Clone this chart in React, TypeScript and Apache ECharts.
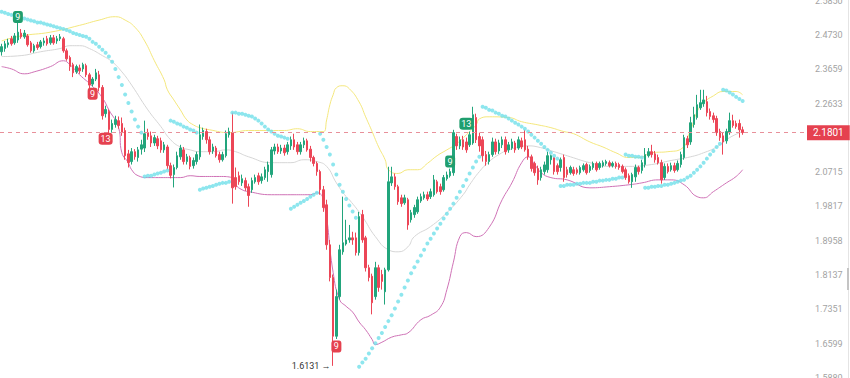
import React, { useEffect, useRef } from "react";
import * as echarts from "echarts";

// ---- axis scale (log spaced ticks) ----
const P0 = 1.6599; // tick "1.6599"
const P9 = 2.473; // tick "2.4730"
const STEP = Math.log(P9 / P0) / 9;
const toY = (p: number) => Math.log(p / P0) / STEP;

// tick labels from bottom (-1) to top (10); the 2.1652 tick sits under the price tag
const tickLabels = ["1.5880", "1.6599", "1.7351", "1.8137", "1.8958", "1.9817", "2.0715", "", "2.2633", "2.3659", "2.4730", "2.5850"];

const SLOTS = 248;
const LAST_PRICE = 2.1801;
const LOW_PRICE = 1.6131;

// [open, close, low, high]
const ohlc: [number, number, number, number][] = [
  [2.420,2.436,2.408,2.445],[2.430,2.445,2.420,2.454],[2.442,2.448,2.433,2.461],[2.461,2.445,2.439,2.470],
  [2.448,2.470,2.442,2.479],[2.457,2.482,2.448,2.517],[2.479,2.467,2.461,2.492],[2.467,2.479,2.461,2.489],
  [2.470,2.442,2.436,2.476],[2.448,2.423,2.417,2.454],[2.423,2.439,2.417,2.445],[2.442,2.433,2.426,2.451],
  [2.436,2.451,2.430,2.457],[2.448,2.454,2.439,2.464],[2.461,2.445,2.439,2.470],[2.448,2.464,2.442,2.473],
  [2.464,2.448,2.442,2.473],[2.454,2.461,2.445,2.470],[2.461,2.467,2.454,2.476],[2.461,2.423,2.417,2.467],
  [2.423,2.398,2.392,2.430],[2.402,2.374,2.361,2.408],[2.380,2.355,2.342,2.386],[2.358,2.374,2.352,2.380],
  [2.370,2.361,2.352,2.380],[2.367,2.380,2.358,2.386],[2.377,2.349,2.342,2.383],[2.349,2.318,2.308,2.355],
  [2.321,2.336,2.314,2.342],[2.336,2.355,2.330,2.367],[2.349,2.311,2.299,2.361],[2.311,2.228,2.217,2.318],
  [2.234,2.246,2.223,2.257],[2.240,2.189,2.177,2.246],[2.189,2.206,2.180,2.217],[2.203,2.217,2.194,2.228],
  [2.214,2.200,2.191,2.226],[2.206,2.180,2.171,2.223],[2.186,2.116,2.105,2.194],[2.121,2.097,2.084,2.132],
  [2.100,2.127,2.092,2.137],[2.127,2.113,2.105,2.134],[2.111,2.132,2.100,2.140],[2.134,2.146,2.119,2.160],
  [2.137,2.177,2.126,2.214],[2.180,2.169,2.160,2.191],[2.171,2.151,2.140,2.183],[2.151,2.166,2.143,2.174],
  [2.163,2.143,2.134,2.171],[2.157,2.132,2.124,2.166],[2.132,2.146,2.124,2.154],[2.140,2.089,2.079,2.146],
  [2.089,2.063,2.055,2.097],[2.065,2.084,2.031,2.092],[2.084,2.116,2.079,2.127],[2.113,2.137,2.105,2.146],
  [2.132,2.100,2.092,2.140],[2.100,2.113,2.092,2.121],[2.111,2.087,2.079,2.116],[2.089,2.103,2.081,2.111],
  [2.100,2.119,2.092,2.127],[2.113,2.174,2.105,2.203],[2.169,2.186,2.160,2.194],[2.183,2.160,2.149,2.191],
  [2.160,2.127,2.119,2.169],[2.129,2.140,2.121,2.149],[2.137,2.116,2.111,2.143],[2.119,2.105,2.097,2.127],
  [2.105,2.119,2.100,2.127],[2.116,2.177,2.111,2.186],[2.174,2.183,2.166,2.194],[2.180,2.030,1.989,2.237],
  [2.057,2.033,2.025,2.084],[2.062,2.046,2.038,2.073],[2.043,2.054,2.035,2.065],[2.049,2.030,2.022,2.057],
  [2.033,2.010,1.981,2.041],[2.025,2.049,2.017,2.057],[2.046,2.057,2.041,2.065],[2.062,2.046,2.038,2.070],
  [2.049,2.059,2.041,2.068],[2.057,2.078,2.051,2.086],[2.073,2.091,2.046,2.100],[2.065,2.132,2.057,2.140],
  [2.129,2.140,2.119,2.149],[2.140,2.127,2.121,2.149],[2.129,2.137,2.121,2.146],[2.137,2.124,2.116,2.146],
  [2.127,2.146,2.119,2.154],[2.143,2.160,2.132,2.169],[2.160,2.140,2.132,2.177],[2.146,2.127,2.119,2.154],
  [2.127,2.146,2.119,2.154],[2.146,2.157,2.137,2.166],[2.157,2.132,2.127,2.163],[2.134,2.111,2.100,2.143],
  [2.111,2.095,2.087,2.116],[2.095,2.073,2.062,2.100],[2.073,2.025,2.012,2.078],[2.025,1.979,1.968,2.035],
  [1.986,1.886,1.874,1.999],[1.886,1.808,1.799,1.898],[1.808,1.676,1.6131,1.815],[1.676,1.764,1.670,1.780],
  [1.764,1.874,1.757,1.886],[1.869,1.891,1.862,2.007],[1.888,1.898,1.884,1.948],[1.898,1.903,1.891,1.935],
  [1.903,1.898,1.886,1.918],[1.903,1.867,1.860,1.916],[1.867,1.956,1.860,1.968],[1.961,1.898,1.891,1.973],
  [1.903,1.831,1.822,1.908],[1.831,1.808,1.799,1.838],[1.811,1.750,1.724,1.817],[1.764,1.831,1.757,1.845],
  [1.831,1.785,1.775,1.838],[1.815,1.799,1.780,1.826],[1.775,1.826,1.746,1.831],[1.826,2.046,1.822,2.086],
  [2.043,2.059,2.035,2.086],[2.059,2.033,2.025,2.068],[2.033,1.994,1.986,2.038],[2.004,1.989,1.981,2.012],
  [1.991,2.004,1.986,2.012],[1.999,1.935,1.923,2.004],[1.948,1.966,1.941,1.973],[1.961,1.979,1.953,1.986],
  [1.968,1.999,1.963,2.007],[1.996,2.007,1.991,2.015],[2.004,2.012,1.999,2.020],[2.012,2.001,1.996,2.020],
  [2.007,2.020,2.001,2.028],[2.012,2.051,2.007,2.064],[2.046,2.020,2.015,2.051],[2.033,2.020,2.012,2.041],
  [2.025,2.057,2.020,2.064],[2.054,2.064,2.049,2.073],[2.062,2.073,2.057,2.081],[2.070,2.180,2.062,2.188],
  [2.169,2.143,2.132,2.177],[2.143,2.160,2.134,2.169],[2.160,2.140,2.132,2.171],[2.154,2.132,2.124,2.166],
  [2.146,2.174,2.140,2.183],[2.151,2.231,2.146,2.254],[2.223,2.160,2.151,2.234],[2.169,2.143,2.127,2.180],
  [2.160,2.116,2.100,2.169],[2.119,2.100,2.089,2.129],[2.100,2.119,2.092,2.127],[2.119,2.154,2.113,2.166],
  [2.154,2.127,2.119,2.163],[2.129,2.151,2.121,2.160],[2.146,2.160,2.137,2.169],[2.160,2.127,2.119,2.169],
  [2.132,2.146,2.124,2.154],[2.137,2.154,2.132,2.163],[2.151,2.132,2.124,2.157],[2.137,2.160,2.132,2.169],
  [2.157,2.140,2.134,2.166],[2.160,2.132,2.127,2.188],[2.134,2.113,2.105,2.143],[2.113,2.081,2.073,2.119],
  [2.095,2.070,2.062,2.100],[2.081,2.051,2.038,2.089],[2.057,2.078,2.049,2.086],[2.073,2.091,2.065,2.100],
  [2.078,2.116,2.070,2.127],[2.105,2.116,2.092,2.119],[2.111,2.073,2.065,2.113],[2.089,2.073,2.065,2.095],
  [2.084,2.105,2.073,2.111],[2.111,2.057,2.046,2.119],[2.078,2.065,2.057,2.086],[2.070,2.084,2.065,2.089],
  [2.078,2.068,2.062,2.086],[2.078,2.070,2.065,2.084],[2.070,2.084,2.065,2.089],[2.078,2.089,2.073,2.095],
  [2.092,2.070,2.065,2.097],[2.076,2.087,2.070,2.092],[2.084,2.095,2.078,2.100],[2.095,2.078,2.073,2.100],
  [2.084,2.095,2.078,2.100],[2.089,2.097,2.084,2.103],[2.095,2.100,2.089,2.105],[2.097,2.089,2.084,2.103],
  [2.089,2.095,2.084,2.100],[2.095,2.087,2.081,2.100],[2.092,2.084,2.078,2.097],[2.087,2.073,2.068,2.092],
  [2.078,2.057,2.051,2.084],[2.062,2.046,2.041,2.068],[2.046,2.065,2.030,2.070],[2.059,2.084,2.046,2.092],
  [2.084,2.073,2.065,2.089],[2.076,2.097,2.068,2.105],[2.092,2.119,2.084,2.137],[2.116,2.127,2.111,2.137],
  [2.127,2.119,2.111,2.146],[2.121,2.105,2.097,2.129],[2.111,2.097,2.092,2.119],[2.097,2.051,2.041,2.105],
  [2.057,2.087,2.051,2.095],[2.087,2.073,2.068,2.095],[2.078,2.089,2.073,2.097],[2.089,2.076,2.070,2.097],
  [2.078,2.095,2.073,2.103],[2.092,2.119,2.084,2.127],[2.111,2.166,2.105,2.174],[2.163,2.146,2.137,2.171],
  [2.154,2.208,2.146,2.225],[2.203,2.231,2.194,2.254],[2.223,2.260,2.217,2.289],[2.251,2.266,2.245,2.304],
  [2.263,2.274,2.254,2.304],[2.269,2.237,2.226,2.286],[2.240,2.226,2.217,2.249],[2.228,2.217,2.208,2.237],
  [2.220,2.180,2.171,2.228],[2.183,2.166,2.157,2.191],[2.171,2.154,2.119,2.180],[2.157,2.183,2.149,2.191],
  [2.180,2.214,2.174,2.237],[2.214,2.200,2.194,2.231],[2.206,2.197,2.191,2.214],[2.206,2.188,2.166,2.217],
  [2.188,2.1801,2.174,2.197],
];

// Parabolic SAR, one value per candle
const sar: number[] = [
  2.548,2.545,2.541,2.538,2.535,2.532,2.529,2.526,2.523,2.520,2.517,2.513,2.513,2.510,2.507,2.504,2.501,2.498,2.495,2.492,2.489,2.485,
  2.479,2.476,2.473,2.470,2.467,2.461,2.451,2.445,2.436,2.426,2.417,2.405,
  2.389,2.367,2.342,2.318,2.290,2.265,2.240,2.217,2.197,2.180,
  2.060,2.062,2.062,2.065,2.068,2.070,2.073,2.076,
  2.214,2.211,2.206,2.203,2.197,2.194,2.189,2.186,2.180,
  2.025,2.028,2.030,2.033,2.035,2.038,2.041,2.043,2.043,2.046,
  2.237,2.237,2.234,2.234,2.231,2.228,2.226,2.220,2.214,2.206,2.197,2.189,2.183,2.177,2.171,2.169,2.166,2.163,
  1.976,1.981,1.986,1.991,1.996,2.001,2.007,2.012,2.017,
  2.177,2.160,2.140,2.119,2.092,2.065,2.038,2.020,2.001,1.984,1.969,1.953,
  1.611,1.620,1.628,1.639,1.650,1.661,1.672,1.683,1.696,1.709,1.722,1.737,1.753,1.768,1.785,1.801,1.818,1.832,1.846,
  1.860,1.874,1.889,1.901,1.914,1.926,1.938,1.951,1.963,1.976,1.989,2.004,2.020,2.035,2.051,2.068,2.084,2.100,2.113,
  2.254,2.251,2.245,2.243,2.237,2.234,2.228,2.226,2.220,2.214,2.208,2.203,2.197,2.191,2.183,2.174,2.166,2.157,2.149,2.140,2.132,2.124,2.116,2.108,
  2.035,2.035,2.038,2.038,2.038,2.041,2.041,2.043,2.043,2.043,2.046,2.046,2.049,2.049,2.051,2.051,2.054,2.054,2.057,2.057,
  2.119,2.116,2.116,2.113,2.113,2.111,
  2.030,2.030,2.033,2.033,2.035,2.035,2.038,2.038,2.041,2.043,2.046,2.049,2.051,2.057,2.062,2.070,2.078,2.087,2.097,2.108,2.119,2.129,2.140,2.149,
  2.304,2.302,2.296,2.290,2.283,2.277,2.271,
];

// Bollinger bands: [candle index, price]
const bollUpper: [number, number][] = [
  [0,2.454],[6,2.470],[15,2.482],[24,2.504],[30,2.521],[35,2.532],[38,2.521],[41,2.498],[44,2.454],[47,2.392],
  [50,2.334],[51,2.304],[53,2.274],[55,2.245],[57,2.216],[59,2.202],[61,2.194],[64,2.188],[70,2.180],[76,2.186],
  [87,2.186],[91,2.191],[95,2.183],[99,2.183],[100,2.216],[101,2.260],[102,2.289],[103,2.310],[105,2.316],[107,2.307],
  [110,2.268],[112,2.225],[114,2.183],[116,2.140],[118,2.105],[119,2.078],[122,2.068],[125,2.078],[128,2.078],[131,2.095],
  [134,2.116],[137,2.132],[140,2.149],[143,2.174],[146,2.202],[147,2.219],[150,2.225],[156,2.223],[160,2.211],[165,2.202],
  [169,2.194],[173,2.183],[176,2.177],[181,2.154],[185,2.140],[189,2.124],[193,2.111],[196,2.111],[200,2.124],[205,2.127],
  [209,2.134],[212,2.188],[214,2.240],[216,2.266],[219,2.286],[222,2.299],[226,2.299],[228,2.289],
];
const bollMiddle: [number, number][] = [
  [0,2.405],[6,2.408],[12,2.420],[18,2.430],[21,2.439],[24,2.439],[27,2.430],[31,2.408],[34,2.389],[37,2.358],
  [40,2.318],[45,2.245],[49,2.197],[52,2.160],[55,2.140],[58,2.132],[61,2.127],[65,2.127],[69,2.132],[72,2.127],
  [76,2.113],[83,2.097],[89,2.097],[93,2.105],[97,2.100],[100,2.087],[103,2.043],[106,2.007],[107,1.999],[111,1.956],
  [115,1.906],[119,1.874],[122,1.869],[125,1.881],[127,1.906],[132,1.931],[137,1.966],[142,2.012],[144,2.038],[147,2.073],
  [150,2.100],[153,2.119],[156,2.132],[162,2.143],[165,2.140],[170,2.127],[175,2.113],[181,2.097],[187,2.087],[193,2.087],
  [200,2.092],[206,2.103],[212,2.113],[216,2.124],[220,2.140],[224,2.166],[228,2.183],
];
const bollLower: [number, number][] = [
  [0,2.374],[3,2.367],[7,2.352],[10,2.358],[15,2.374],[19,2.392],[21,2.380],[24,2.349],[28,2.314],[31,2.280],
  [33,2.245],[36,2.194],[37,2.124],[39,2.097],[40,2.078],[42,2.062],[45,2.057],[49,2.057],[52,2.057],[55,2.057],
  [58,2.062],[61,2.060],[67,2.060],[71,2.057],[72,2.038],[74,2.025],[76,2.020],[83,2.012],[89,2.012],[95,2.012],
  [97,2.017],[99,1.999],[102,1.820],[104,1.757],[106,1.742],[108,1.729],[110,1.707],[112,1.690],[114,1.669],[115,1.658],
  [117,1.663],[120,1.674],[123,1.679],[125,1.683],[129,1.712],[132,1.722],[135,1.740],[137,1.780],[139,1.844],[141,1.906],
  [143,1.916],[146,1.906],[150,1.929],[154,1.999],[157,2.043],[160,2.097],[162,2.113],[164,2.092],[166,2.070],[169,2.057],
  [174,2.051],[181,2.030],[187,2.033],[193,2.038],[197,2.043],[202,2.051],[206,2.051],[210,2.038],[214,2.007],[216,2.004],
  [219,2.020],[223,2.043],[226,2.060],[228,2.078],
];

// TD sequential marks: [candle index, price, text, kind]
const tdMarks: [number, number, string, string][] = [
  [5, 2.531, "9", "up"],
  [28, 2.292, "9", "down"],
  [32, 2.163, "13", "down"],
  [103, 1.654, "9", "down"],
  [138, 2.100, "9", "up"],
  [143, 2.205, "13", "up"],
];

const GREEN = "#22a57c";
const RED = "#ec4657";
const GREEN_BOX = "#1f9e6e";
const RED_BOX = "#e5414f";

export default function App() {
  const ref = useRef<HTMLDivElement>(null);
  useEffect(() => {
    if (!ref.current) return;
    const chart = echarts.init(ref.current, undefined, { renderer: "svg" });
    const categories = Array.from({ length: SLOTS }, (_, i) => String(i));
    const toPairs = (arr: [number, number][]) => arr.map(([i, p]) => [i, toY(p)]);

    const option: any = {
      animation: false,
      textStyle: { fontFamily: "Roboto, sans-serif" },
      grid: { left: 0, right: 44, top: 0.67, bottom: 0, outerBoundsMode: "none", containLabel: false },
      xAxis: {
        type: "category",
        data: categories,
        boundaryGap: true,
        axisLine: { show: false },
        axisTick: { show: false },
        axisLabel: { show: false },
        splitLine: { show: false },
      },
      yAxis: {
        type: "value",
        position: "right",
        min: -1,
        max: 10,
        interval: 1,
        axisLine: { show: false },
        axisTick: { show: false },
        splitLine: { show: false },
        axisLabel: {
          margin: 9,
          color: "#a3a3a3",
          fontSize: 9,
          verticalAlignMinLabel: "middle",
          verticalAlignMaxLabel: "middle",
          formatter: (v: number) => tickLabels[Math.round(v) + 1] ?? "",
        },
      },
      series: [
        {
          type: "line",
          data: toPairs(bollUpper),
          smooth: true,
          showSymbol: false,
          lineStyle: { color: "#f4e77c", width: 1 },
          z: 1,
          silent: true,
        },
        {
          type: "line",
          data: toPairs(bollMiddle),
          smooth: true,
          showSymbol: false,
          lineStyle: { color: "#d6d6d6", width: 1 },
          z: 1,
          silent: true,
        },
        {
          type: "line",
          data: toPairs(bollLower),
          smooth: true,
          showSymbol: false,
          lineStyle: { color: "#cf72b6", width: 1 },
          z: 1,
          silent: true,
        },
        {
          type: "candlestick",
          barWidth: "68%",
          z: 3,
          data: ohlc.map(([o, c, l, h]) => [toY(o), toY(c), toY(l), toY(h)]),
          itemStyle: {
            color: GREEN,
            color0: RED,
            borderColor: GREEN,
            borderColor0: RED,
            borderWidth: 1,
          },
          markLine: {
            symbol: "none",
            silent: true,
            lineStyle: { color: "#e8909a", type: [4, 4], width: 1 },
            label: {
              show: true,
              position: "end",
              distance: 1,
              formatter: () => LAST_PRICE.toFixed(4),
              backgroundColor: RED_BOX,
              color: "#ffffff",
              fontSize: 10,
              padding: [3, 6, 2, 6],
            },
            data: [{ yAxis: toY(LAST_PRICE) }],
          },
          markPoint: {
            silent: true,
            data: [
              ...tdMarks.map(([i, p, t, k]) => ({
                coord: [i, toY(p)],
                symbol: "roundRect",
                symbolSize: [t.length > 1 ? 14 : 10, 12],
                itemStyle: { color: k === "up" ? GREEN_BOX : RED_BOX },
                label: { show: true, formatter: t, color: "#fff", fontSize: 9, position: "inside" },
              })),
              {
                coord: [102, toY(LOW_PRICE)],
                symbol: "circle",
                symbolSize: 1,
                itemStyle: { color: "rgba(0,0,0,0)" },
                label: {
                  show: true,
                  position: "left",
                  distance: 2,
                  formatter: LOW_PRICE.toFixed(4) + " →",
                  color: "#333333",
                  fontSize: 9,
                },
              },
            ],
          },
        },
        {
          type: "scatter",
          data: sar.map((p, i) => [i, toY(p)]),
          symbolSize: 4,
          itemStyle: { color: "#72e0ea" },
          z: 4,
          silent: true,
        },
      ],
      graphic: [
        { type: "line", shape: { x1: 848.5, y1: 0, x2: 848.5, y2: 378 }, style: { stroke: "#e4e4e4", lineWidth: 1 } },
        { type: "rect", shape: { x: 847, y: 268, width: 2, height: 22 }, style: { fill: "#c4c4c4" } },
      ],
    };
    chart.setOption(option);
    return () => chart.dispose();
  }, []);
  return (
    <div
      ref={ref}
      style={{ position: "fixed", left: 0, top: 0, width: 850, height: 378, background: "#ffffff" }}
    />
  );
}
